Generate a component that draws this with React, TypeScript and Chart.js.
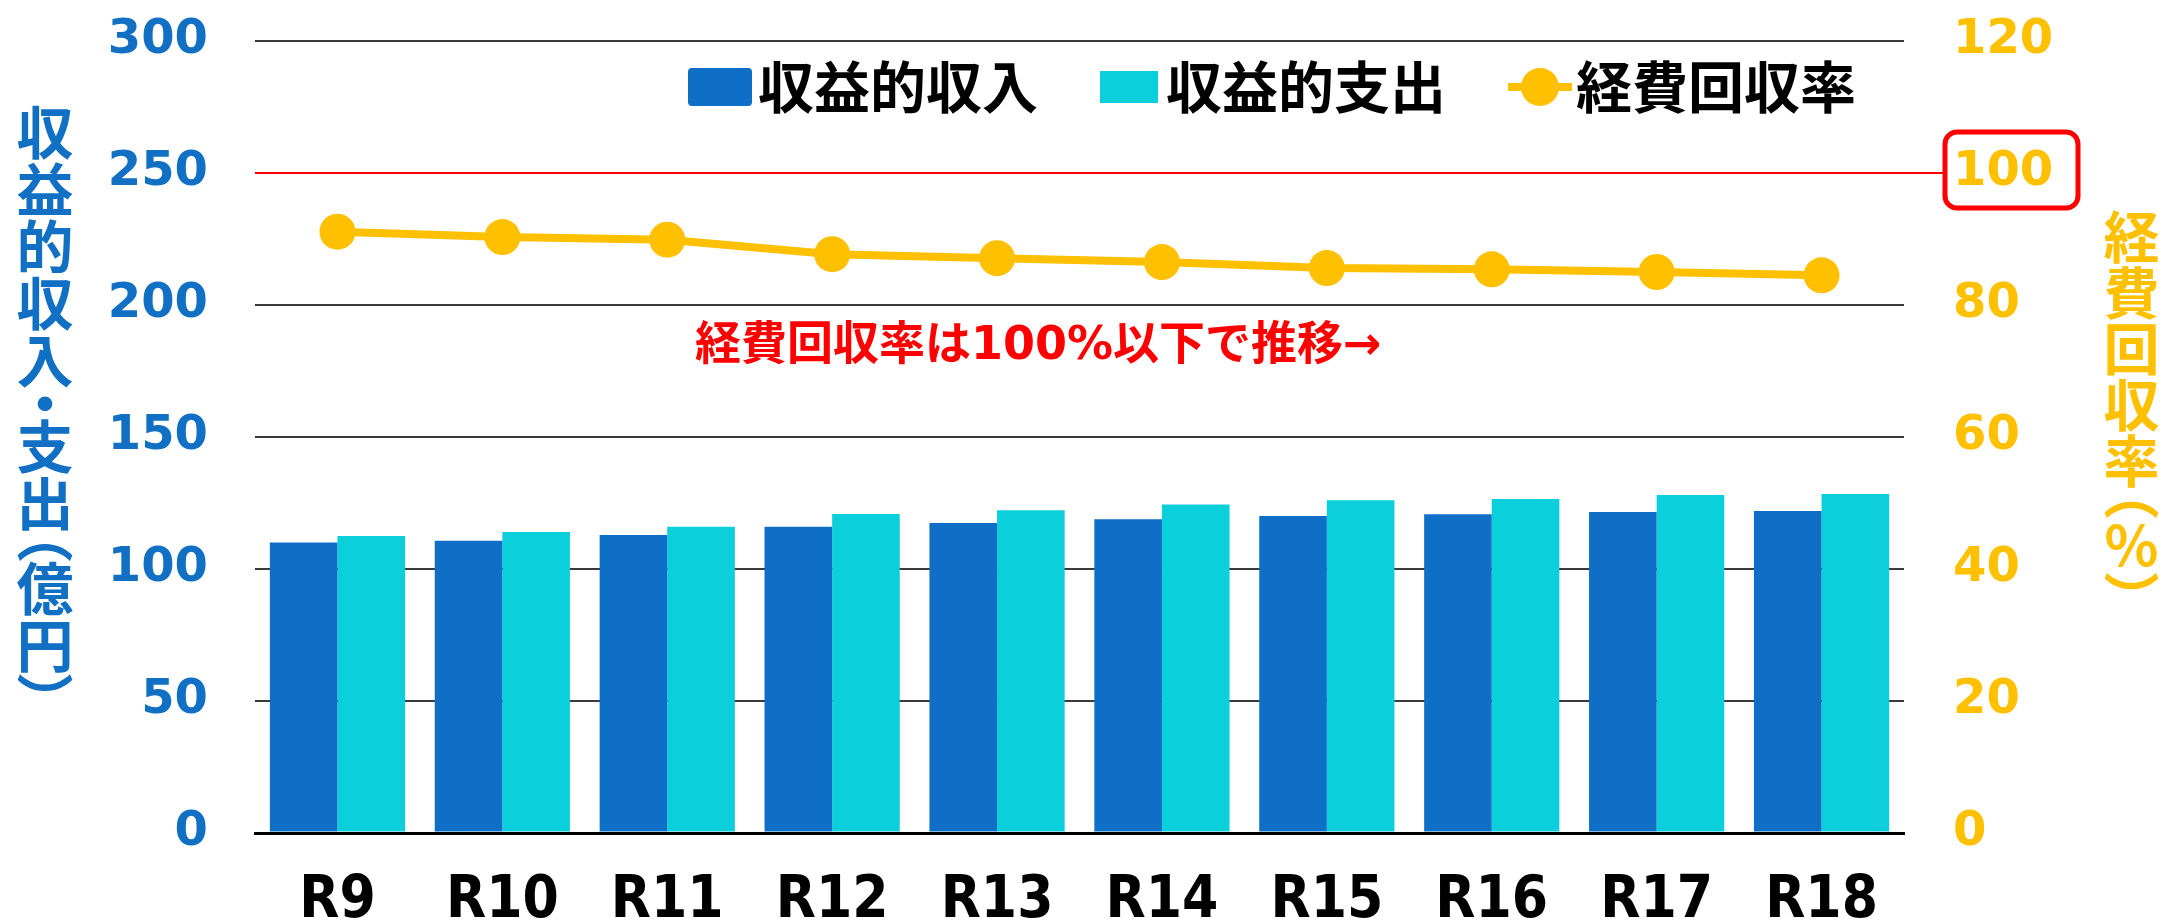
import React, { useEffect, useRef } from 'react';
import { Chart, registerables } from 'chart.js';

Chart.register(...registerables);

const categories = ['R9', 'R10', 'R11', 'R12', 'R13', 'R14', 'R15', 'R16', 'R17', 'R18'];
const incomeValues = [110.0, 110.7, 112.9, 116.0, 117.4, 118.8, 120.1, 120.7, 121.6, 122.0];
const expenseValues = [112.5, 114.0, 116.0, 120.8, 122.3, 124.4, 126.0, 126.5, 128.0, 128.4];
const recoveryRates = [91.1, 90.3, 89.9, 87.7, 87.1, 86.5, 85.6, 85.4, 85.0, 84.5];

const seriesNames = ['収益的収入', '収益的支出', '経費回収率'];
const leftAxisTitle = '収益的収入・支出（億円）';
const rightAxisTitle = '経費回収率（%）';
const annotationText = '経費回収率は100%以下で推移→';
const leftRange = [0, 300, 50];
const rightRange = [0, 120, 20];
const thresholdLeft = 250;

const BLUE = '#0F6FC6';
const CYAN = '#0BCFDA';
const YELLOW = '#FFC000';
const RED = '#FF0000';
const AXIS_BLUE = '#1170C4';
const FONT_MIX = '"DejaVu Sans", "Noto Sans CJK JP", sans-serif';
const FONT_JP = '"Noto Sans CJK JP", sans-serif';

const overlayPlugin = {
  id: 'overlay',
  afterDraw(chart: any) {
    const { ctx, chartArea, scales } = chart;
    const yL = scales.y;
    const yT = yL.getPixelForValue(thresholdLeft);
    ctx.save();
    ctx.strokeStyle = RED;
    ctx.lineWidth = 2;
    ctx.beginPath();
    ctx.moveTo(chartArea.right, yT);
    ctx.lineTo(chartArea.right + 40, yT);
    ctx.stroke();
    ctx.lineWidth = 5;
    ctx.beginPath();
    (ctx as any).roundRect(chartArea.right + 41, yT - 41, 133, 76, 12);
    ctx.stroke();

    ctx.fillStyle = RED;
    ctx.font = `bold 46px ${FONT_MIX}`;
    ctx.textAlign = 'left';
    ctx.textBaseline = 'middle';
    ctx.fillText(annotationText, chartArea.left + 440, yL.getPixelForValue(184));

    ctx.font = `bold 56px ${FONT_JP}`;
    const ly = 87;
    let x = 688;
    ctx.fillStyle = BLUE;
    ctx.beginPath();
    (ctx as any).roundRect(x, ly - 19, 64, 38, 4);
    ctx.fill();
    x += 70;
    ctx.fillStyle = '#000';
    ctx.fillText(seriesNames[0], x, ly);
    x += ctx.measureText(seriesNames[0]).width + 62;
    ctx.fillStyle = CYAN;
    ctx.fillRect(x, ly - 16, 58, 32);
    x += 66;
    ctx.fillStyle = '#000';
    ctx.fillText(seriesNames[1], x, ly);
    x += ctx.measureText(seriesNames[1]).width + 62;
    ctx.strokeStyle = YELLOW;
    ctx.lineWidth = 8;
    ctx.beginPath();
    ctx.moveTo(x, ly);
    ctx.lineTo(x + 64, ly);
    ctx.stroke();
    ctx.fillStyle = YELLOW;
    ctx.beginPath();
    ctx.arc(x + 32, ly, 19, 0, Math.PI * 2);
    ctx.fill();
    x += 68;
    ctx.fillStyle = '#000';
    ctx.fillText(seriesNames[2], x, ly);
    ctx.restore();
  },
};

export default function App() {
  const ref = useRef<HTMLCanvasElement>(null);
  useEffect(() => {
    document.body.style.margin = '0';
    const chart = new Chart(ref.current as HTMLCanvasElement, {
      type: 'bar',
      data: {
        labels: categories,
        datasets: [
          {
            type: 'line',
            label: seriesNames[2],
            data: recoveryRates,
            yAxisID: 'y1',
            borderColor: YELLOW,
            backgroundColor: YELLOW,
            borderWidth: 8,
            pointRadius: 18,
            pointBackgroundColor: YELLOW,
            pointBorderWidth: 0,
            tension: 0,
            order: 0,
          } as any,
          {
            type: 'bar',
            label: seriesNames[0],
            data: incomeValues,
            yAxisID: 'y',
            backgroundColor: BLUE,
            borderWidth: 0,
            categoryPercentage: 0.82,
            barPercentage: 1.0,
            order: 1,
          },
          {
            type: 'bar',
            label: seriesNames[1],
            data: expenseValues,
            yAxisID: 'y',
            backgroundColor: CYAN,
            borderWidth: 0,
            categoryPercentage: 0.82,
            barPercentage: 1.0,
            order: 1,
          },
        ],
      },
      options: {
        responsive: false,
        animation: false,
        devicePixelRatio: 1,
        layout: { padding: { top: 41, left: 0, right: 0, bottom: 0 } },
        plugins: {
          legend: { display: false },
          tooltip: { enabled: false },
        },
        scales: {
          x: {
            z: 1,
            grid: { display: false, drawTicks: false },
            border: { display: true, color: '#000', width: 3 },
            ticks: {
              color: '#000',
              padding: 34,
              font: { family: '"DejaVu Sans Condensed", "DejaVu Sans"', size: 58, weight: 'bold' },
            },
            afterFit: (s: any) => {
              s.height = 89;
              s.paddingLeft = 0;
              s.paddingRight = 0;
            },
          },
          y: {
            position: 'left',
            min: leftRange[0],
            max: leftRange[1],
            ticks: {
              stepSize: leftRange[2],
              color: AXIS_BLUE,
              padding: 47,
              font: { family: 'DejaVu Sans', size: 48, weight: 'bold' },
            },
            grid: {
              drawTicks: false,
              color: (c: any) => (c.tick && c.tick.value === thresholdLeft ? RED : c.tick && c.tick.value === 0 ? '#000' : '#3a3a3a'),
              lineWidth: (c: any) => (c.tick && c.tick.value === 0 ? 3 : 2),
            },
            border: { display: false },
            afterFit: (s: any) => {
              s.width = 255;
              s.paddingTop = 0;
              s.paddingBottom = 0;
            },
          },
          y1: {
            position: 'right',
            min: rightRange[0],
            max: rightRange[1],
            ticks: {
              stepSize: rightRange[2],
              color: YELLOW,
              padding: 49,
              font: { family: 'DejaVu Sans', size: 48, weight: 'bold' },
            },
            grid: { display: false, drawTicks: false },
            border: { display: false },
            afterFit: (s: any) => {
              s.width = 259;
              s.paddingTop = 0;
              s.paddingBottom = 0;
            },
          },
        },
      },
      plugins: [overlayPlugin],
    });
    return () => chart.destroy();
  }, []);

  const titleBase: React.CSSProperties = {
    position: 'absolute',
    writingMode: 'vertical-rl',
    fontFamily: FONT_JP,
    fontWeight: 'bold',
    fontSize: 56,
    lineHeight: '56px',
    fontFeatureSettings: '"vpal"',
    whiteSpace: 'nowrap',
  };

  return (
    <div style={{ position: 'relative', width: 2163, height: 922, background: '#fff', overflow: 'hidden' }}>
      <canvas ref={ref} width={2163} height={922} style={{ display: 'block', width: 2163, height: 922 }} />
      <div style={{ ...titleBase, left: 16, top: 104, fontSize: 57, lineHeight: '57px', color: AXIS_BLUE }}>{leftAxisTitle}</div>
      <div style={{ ...titleBase, left: 2103, top: 209, color: YELLOW, textOrientation: 'upright' }}>{rightAxisTitle}</div>
    </div>
  );
}
